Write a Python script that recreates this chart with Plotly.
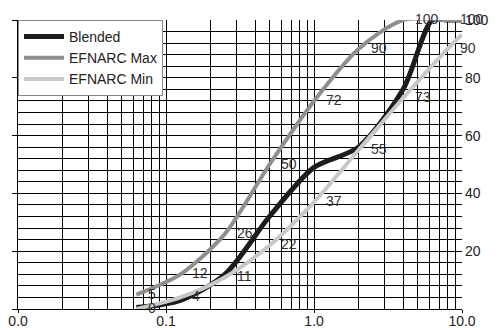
import math
import plotly.graph_objects as go

# Data (sieve size in mm, percent passing)
sizes = [0.063, 0.125, 0.25, 0.5, 1, 2, 4, 8, 10]
efnarc_max = [5, 12, 26, 50, 72, 90, 100, 100, 100]
efnarc_min = [0, 4, 11, 22, 37, 55, 73, 90, 95]
max_labels = ["5", "12", "26", "50", "72", "90", "100", "100", ""]
min_labels = ["0", "4", "11", "22", "37", "55", "73", "90", ""]

blend_sizes = [0.063, 0.125, 0.25, 0.5, 1, 2, 4, 6.3, 8, 10]
blended = [0.5, 3, 12, 32, 49, 56, 76, 100, 100, 100]

x_tick_vals = [0.01, 0.1, 1, 10]
x_tick_text = ["0.0", "0.1", "1.0", "10.0"]
y_right_ticks = [20, 40, 60, 80, 100]

FONT = "Liberation Sans, Arial, sans-serif"

minor_x = [m * d for d in (0.01, 0.1, 1) for m in range(1, 10)] + [10]

fig = go.Figure()
fig.add_trace(go.Scatter(x=blend_sizes, y=blended, mode="lines", name="Blended",
                         line=dict(color="#1c1c1c", width=5, shape="spline", smoothing=0.8)))
fig.add_trace(go.Scatter(x=sizes, y=efnarc_max, mode="lines", name="EFNARC Max",
                         line=dict(color="#8f8f8f", width=4, shape="spline", smoothing=0.8)))
fig.add_trace(go.Scatter(x=sizes, y=efnarc_min, mode="lines", name="EFNARC Min",
                         line=dict(color="#c8c8c8", width=4, shape="spline", smoothing=0.8)))

annotations = []
for xs, ys, labs in ((sizes, efnarc_max, max_labels), (sizes, efnarc_min, min_labels)):
    for xv, yv, t in zip(xs, ys, labs):
        if t:
            annotations.append(dict(x=math.log10(xv), y=yv, xref="x", yref="y", text=t,
                                    showarrow=False, xanchor="left", yanchor="middle",
                                    xshift=10, yshift=1,
                                    font=dict(family=FONT, size=14, color="#333333")))

fig.update_layout(
    width=502, height=328,
    margin=dict(l=18, r=40, t=20, b=19, autoexpand=False),
    paper_bgcolor="white", plot_bgcolor="white",
    showlegend=True,
    legend=dict(x=0, y=1, xanchor="left", yanchor="top", bgcolor="white",
                bordercolor="#888888", borderwidth=1,
                font=dict(family=FONT, size=14, color="#222222"),
                tracegroupgap=0, itemwidth=40),
    annotations=annotations,
    xaxis=dict(type="log", range=[-2, 1], tickvals=x_tick_vals, ticktext=x_tick_text,
               ticks="outside", ticklen=3, tickcolor="black", automargin=False,
               ticklabelstandoff=-4,
               showgrid=True, gridcolor="black", gridwidth=1,
               minor=dict(tickvals=minor_x, showgrid=True, gridcolor="black", gridwidth=1, ticks=""),
               showline=True, linecolor="black", linewidth=1, zeroline=False,
               tickfont=dict(family=FONT, size=14, color="#222222")),
    yaxis=dict(range=[0, 100], tickvals=[0, 20, 40, 60, 80, 100], showticklabels=False,
               ticks="outside", ticklen=5, tickcolor="black", automargin=False,
               showgrid=True, gridcolor="black", gridwidth=1,
               minor=dict(dtick=4, tick0=0, showgrid=True, gridcolor="black", gridwidth=1, ticks=""),
               showline=True, linecolor="black", linewidth=1, zeroline=False),
    yaxis2=dict(range=[0, 100], overlaying="y", side="right", tickvals=y_right_ticks,
                showgrid=False, zeroline=False, showline=False, ticks="", automargin=False,
                ticklabelstandoff=2,
                tickfont=dict(family=FONT, size=14, color="#222222")),
)
# invisible helper so the right axis is drawn
fig.add_trace(go.Scatter(x=[0.01], y=[0], yaxis="y2", mode="markers",
                         marker=dict(opacity=0), showlegend=False, hoverinfo="skip"))

fig.write_html("out.html", config={"displayModeBar": False},
               post_script="document.body.style.margin='0';")
